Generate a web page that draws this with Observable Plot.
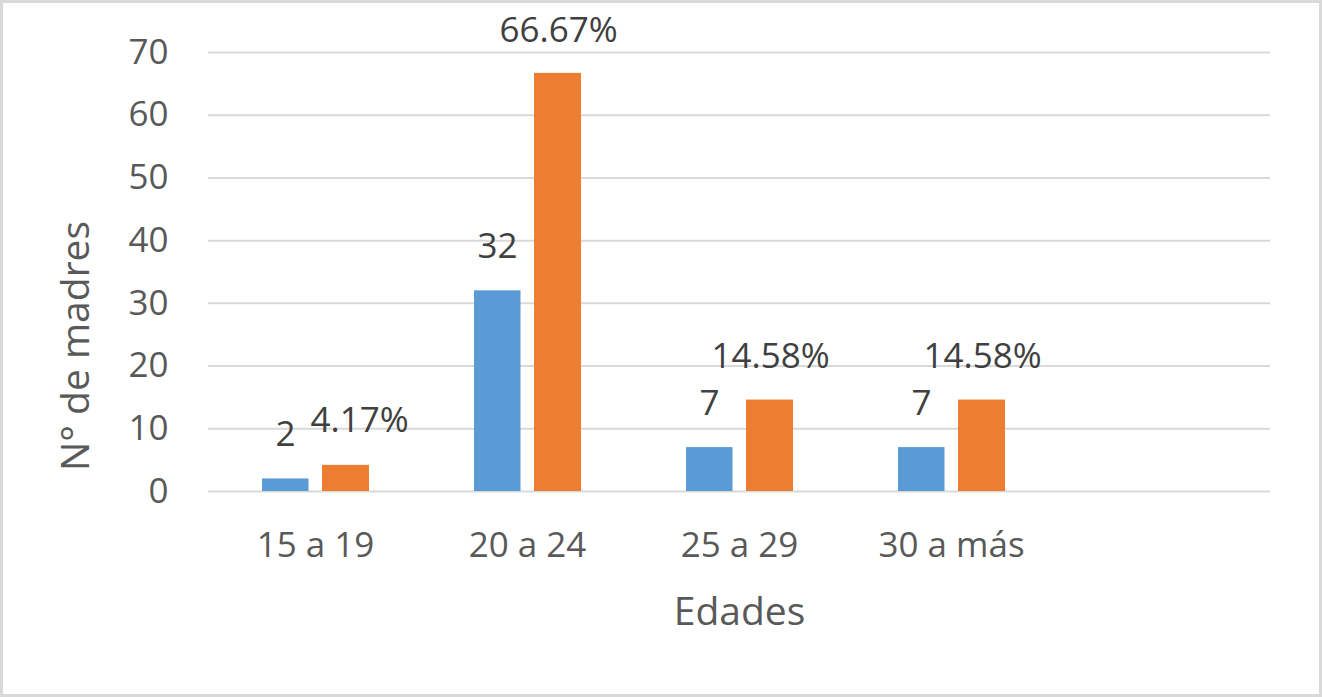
<!DOCTYPE html>
<html>
<head>
<meta charset="utf-8">
<script src="https://cdn.jsdelivr.net/npm/d3@7"></script>
<script src="https://cdn.jsdelivr.net/npm/@observablehq/plot@0.6"></script>
<style>
  html, body { margin: 0; padding: 0; background: #fff; }
  #wrap { position: relative; width: 1322px; height: 697px; overflow: hidden; }
  #border { position: absolute; left: 0; top: 0; right: 0; bottom: 0; border: 3px solid #d9d9d9; box-sizing: border-box; pointer-events: none; }
</style>
</head>
<body>
<div id="wrap"><div id="border"></div></div>
<script>
// Data
const categories = ["15 a 19", "20 a 24", "25 a 29", "30 a más"];
const counts = [2, 32, 7, 7];
const percents = [4.17, 66.67, 14.58, 14.58];
const countLabels = ["2", "32", "7", "7"];
const percentLabels = ["4.17%", "66.67%", "14.58%", "14.58%"];
const yTicks = [0, 10, 20, 30, 40, 50, 60, 70];

const blueRows = categories.map((c, i) => ({cat: c, value: counts[i], label: countLabels[i]}));
const orangeRows = categories.map((c, i) => ({cat: c, value: percents[i], label: percentLabels[i]}));

const FONT = "'Open Sans', sans-serif";
const BLUE = "#5B9BD5", ORANGE = "#ED7D31";
const xDomain = [...categories, ""];

const chart = Plot.plot({
  width: 1322,
  height: 697,
  marginLeft: 208,
  marginRight: 52,
  marginTop: 52,
  marginBottom: 206,
  style: {fontFamily: FONT, fontSize: "35px", color: "#595959", background: "transparent", overflow: "visible"},
  x: {domain: xDomain, padding: 0, tickSize: 0, tickPadding: 41, label: null},
  y: {domain: [0, 70], ticks: yTicks, tickSize: 0, tickPadding: 40, label: null},
  marks: [
    Plot.ruleY(yTicks, {stroke: "#d9d9d9", strokeWidth: 2}),
    Plot.barY(blueRows, {x: "cat", y: "value", fill: BLUE, insetLeft: 53, insetRight: 112.5}),
    Plot.barY(orangeRows, {x: "cat", y: "value", fill: ORANGE, insetLeft: 113, insetRight: 52}),
    Plot.text(blueRows, {x: "cat", y: "value", text: "label", dx: -30, dy: -44, fill: "#404040", fontSize: 35, lineAnchor: "middle"}),
    Plot.text(orangeRows.slice(1), {x: "cat", y: "value", text: "label", dx: 31, dy: -43, fill: "#404040", fontSize: 35, lineAnchor: "middle"}),
    Plot.text(orangeRows.slice(0, 1), {x: "cat", y: "value", text: "label", dx: 44, dy: -45, fill: "#404040", fontSize: 35, lineAnchor: "middle"}),
    Plot.text(["N° de madres"], {frameAnchor: "left", textAnchor: "middle", dx: -132, dy: 74, rotate: -90, fill: "#595959", fontSize: 39, lineAnchor: "middle"}),
    Plot.text(["Edades"], {frameAnchor: "bottom", dy: 121, fill: "#595959", fontSize: 39, lineAnchor: "middle"})
  ]
});
chart.style.position = "absolute";
chart.style.left = "0";
chart.style.top = "0";
document.getElementById("wrap").insertBefore(chart, document.getElementById("border"));
</script>
</body>
</html>
